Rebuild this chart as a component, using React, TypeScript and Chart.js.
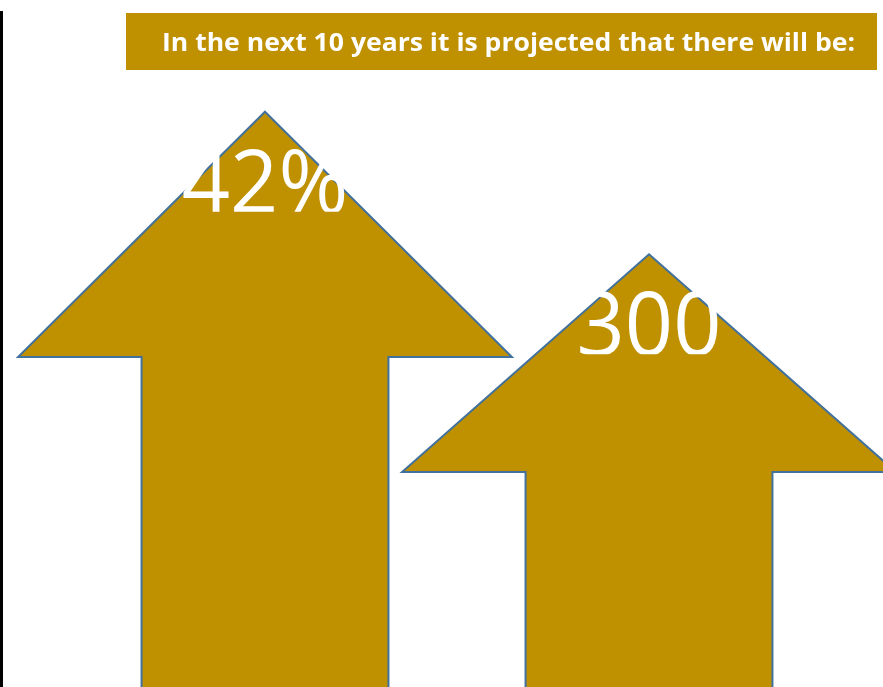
import React, { useEffect, useRef } from "react";
import { Chart, registerables } from "chart.js";

Chart.register(...registerables);

// ---- data ----
const categories = ["Increase", "Additional"];
const tipValues = [85.1, 64.0]; // arrow tip heights (percent of plot height)
const headBaseValues = [48.8, 31.8]; // where each arrow head meets the shaft
const valueLabels = ["42%", "300"];
const titleText = "In the next 10 years it is projected that there will be:";

const GOLD = "#BF9000";
const OUTLINE = "#41719C";

const arrowPlugin = {
  id: "arrowShapes",
  beforeDraw(chart: any) {
    const ctx = chart.ctx;
    const area = chart.chartArea;
    ctx.save();
    ctx.fillStyle = "#000000";
    ctx.fillRect(0, area.top, 3, chart.height - area.top);
    ctx.restore();
  },
  afterDatasetsDraw(chart: any) {
    const ctx = chart.ctx;
    const meta = chart.getDatasetMeta(0);
    const yScale = chart.scales.y;
    meta.data.forEach((bar: any, i: number) => {
      const { x, y, base, width } = bar.getProps(["x", "y", "base", "width"], true);
      const half = width / 2;
      const headY = yScale.getPixelForValue(headBaseValues[i]);
      const bottom = base + 6;
      ctx.save();
      ctx.beginPath();
      ctx.moveTo(x, y);
      ctx.lineTo(x + 2 * half, headY);
      ctx.lineTo(x + half, headY);
      ctx.lineTo(x + half, bottom);
      ctx.lineTo(x - half, bottom);
      ctx.lineTo(x - half, headY);
      ctx.lineTo(x - 2 * half, headY);
      ctx.closePath();
      ctx.fillStyle = GOLD;
      ctx.fill();
      ctx.lineWidth = 2;
      ctx.strokeStyle = OUTLINE;
      ctx.lineJoin = "miter";
      ctx.stroke();
      ctx.restore();
    });
    meta.data.forEach((bar: any, i: number) => {
      const { x, y } = bar.getProps(["x", "y"], true);
      ctx.save();
      ctx.beginPath();
      ctx.rect(x - 200, y - 100, 400, 200);
      ctx.clip();
      ctx.fillStyle = "#FFFFFF";
      ctx.font = "88px 'Open Sans'";
      ctx.textAlign = "center";
      ctx.textBaseline = "alphabetic";
      ctx.translate(x, y + 101);
      ctx.scale(0.96, 1);
      ctx.fillText(valueLabels[i], 0, 0);
      ctx.restore();
    });
  },
  afterDraw(chart: any) {
    const ctx = chart.ctx;
    ctx.save();
    ctx.fillStyle = GOLD;
    ctx.fillRect(126, 13, 751, 57);
    ctx.fillStyle = "#FFFFFF";
    ctx.font = "bold 25px 'Open Sans'";
    ctx.textAlign = "left";
    ctx.textBaseline = "alphabetic";
    const w = ctx.measureText(titleText).width;
    ctx.translate(162, 51);
    ctx.scale(693 / w, 1);
    ctx.fillText(titleText, 0, 0);
    ctx.restore();
  },
};

export default function App() {
  const canvasRef = useRef<HTMLCanvasElement | null>(null);

  useEffect(() => {
    if (!canvasRef.current) return;
    const chart = new Chart(canvasRef.current, {
      type: "bar",
      data: {
        labels: categories,
        datasets: [
          {
            label: "Projection",
            data: tipValues,
            backgroundColor: "rgba(0,0,0,0)",
            borderWidth: 0,
            categoryPercentage: 1,
            barPercentage: 0.643,
          },
        ],
      },
      options: {
        animation: false,
        responsive: true,
        maintainAspectRatio: false,
        layout: { padding: { left: 73, right: 42, top: 11, bottom: 0 } },
        plugins: {
          legend: { display: false },
          tooltip: { enabled: false },
          title: { display: false },
        },
        scales: {
          x: { display: false, offset: true },
          y: { display: false, min: 0, max: 100 },
        },
      },
      plugins: [arrowPlugin],
    });
    return () => chart.destroy();
  }, []);

  return (
    <div
      style={{
        position: "fixed",
        left: 0,
        top: 0,
        width: 883,
        height: 687,
        background: "#FFFFFF",
      }}
    >
      <canvas ref={canvasRef} />
    </div>
  );
}
